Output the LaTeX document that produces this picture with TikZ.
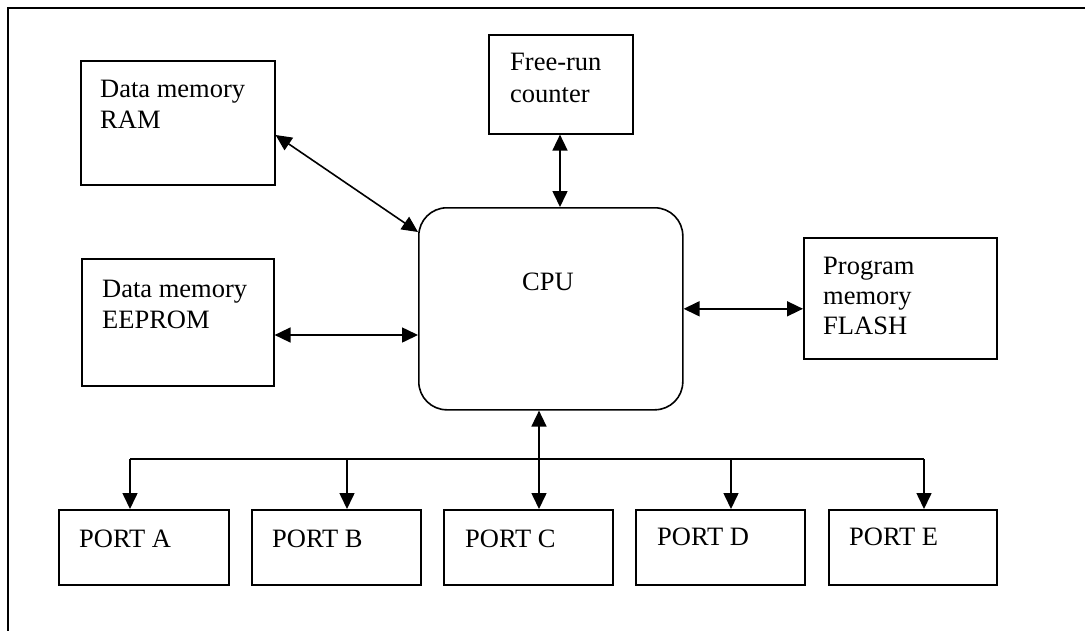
\documentclass[tikz,border=0pt]{standalone}
\usepackage{fontspec}
\setmainfont{Liberation Serif}
\usetikzlibrary{arrows.meta,calc}
\begin{document}
\begin{tikzpicture}[x=1pt,y=-1pt,
  box/.style={draw, line width=1.6pt, rectangle, inner sep=0pt, anchor=north west},
  cpubox/.style={draw, line width=1.6pt, rectangle, rounded corners=28pt, inner sep=0pt, anchor=north west},
  lbl/.style={anchor=base west, inner sep=0pt, font=\fontsize{26.5}{31}\selectfont},
  tip/.tip={Triangle[length=16pt,width=15pt]},
  both/.style={line width=1.6pt, tip-tip},
  down/.style={line width=1.6pt, -tip},
  wire/.style={line width=1.6pt},
  frame/.style={line width=2pt}]
\useasboundingbox (0,0) rectangle (1085,630);
% frame
\coordinate (fbl) at (8,631);
\coordinate (ftl) at (8,8);
\coordinate (ftr) at (1086,8);
\draw[frame] (fbl) -- (ftl) -- (ftr);
% boxes
\node[box, minimum width=194pt, minimum height=124pt] (ram) at (80,60) {};
\node[box, minimum width=144pt, minimum height=99pt] (free) at (488,34) {};
\node[cpubox, minimum width=264pt, minimum height=202pt] (cpu) at (418,207) {};
\node[box, minimum width=192pt, minimum height=127pt] (eep) at (81,258) {};
\node[box, minimum width=193pt, minimum height=121pt] (flash) at (803,237) {};
\node[box, minimum width=170pt, minimum height=75pt] (pa) at (58,509) {};
\node[box, minimum width=169pt, minimum height=75pt] (pb) at (251,509) {};
\node[box, minimum width=169pt, minimum height=75pt] (pc) at (443,509) {};
\node[box, minimum width=169pt, minimum height=75pt] (pd) at (635,509) {};
\node[box, minimum width=168pt, minimum height=75pt] (pe) at (828,509) {};
% texts
\node[lbl] (ramt1) at (100,97) {Data memory};
\node[lbl] (ramt2) at (100,128) {RAM};
\node[lbl] (freet1) at (510,70) {Free-run};
\node[lbl] (freet2) at (510,102) {counter};
\node[lbl, anchor=base] (cput) at (548,290) {CPU};
\node[lbl] (eept1) at (102,297) {Data memory};
\node[lbl] (eept2) at (102,328) {EEPROM};
\node[lbl] (flt1) at (823,274) {Program};
\node[lbl] (flt2) at (823,304) {memory};
\node[lbl] (flt3) at (823,334) {FLASH};
\node[lbl] (pat) at (79,547) {PORT A};
\node[lbl] (pbt) at (272,547) {PORT B};
\node[lbl] (pct) at (465,547) {PORT C};
\node[lbl] (pdt) at (657,545) {PORT D};
\node[lbl] (pet) at (849,545) {PORT E};
% connectors
\draw[both] ($(ram.north east)+(0,75)$) -- ($(cpu.north west)+(0,25)$);
\draw[both] ($(free.south west)+(72,0)$) -- ($(cpu.north west)+(142,0)$);
\draw[both] ($(eep.north east)+(0,77)$) -- ($(cpu.north west)+(0,128)$);
\draw[both] (cpu.east) -- (cpu.east -| flash.west);
\coordinate (cbus) at ($(cpu.south west)+(121,0)$);
\draw[both] (cbus) -- (cbus |- pc.north);
\draw[wire] ($(pa.north west)+(72,-50)$) -- ($(pe.north west)+(96,-50)$);
\draw[down] ($(pa.north west)+(72,-50)$) -- ($(pa.north west)+(72,0)$);
\draw[down] ($(pb.north west)+(96,-50)$) -- ($(pb.north west)+(96,0)$);
\draw[down] ($(pd.north west)+(96,-50)$) -- ($(pd.north west)+(96,0)$);
\draw[down] ($(pe.north west)+(96,-50)$) -- ($(pe.north west)+(96,0)$);
\end{tikzpicture}
\end{document}
